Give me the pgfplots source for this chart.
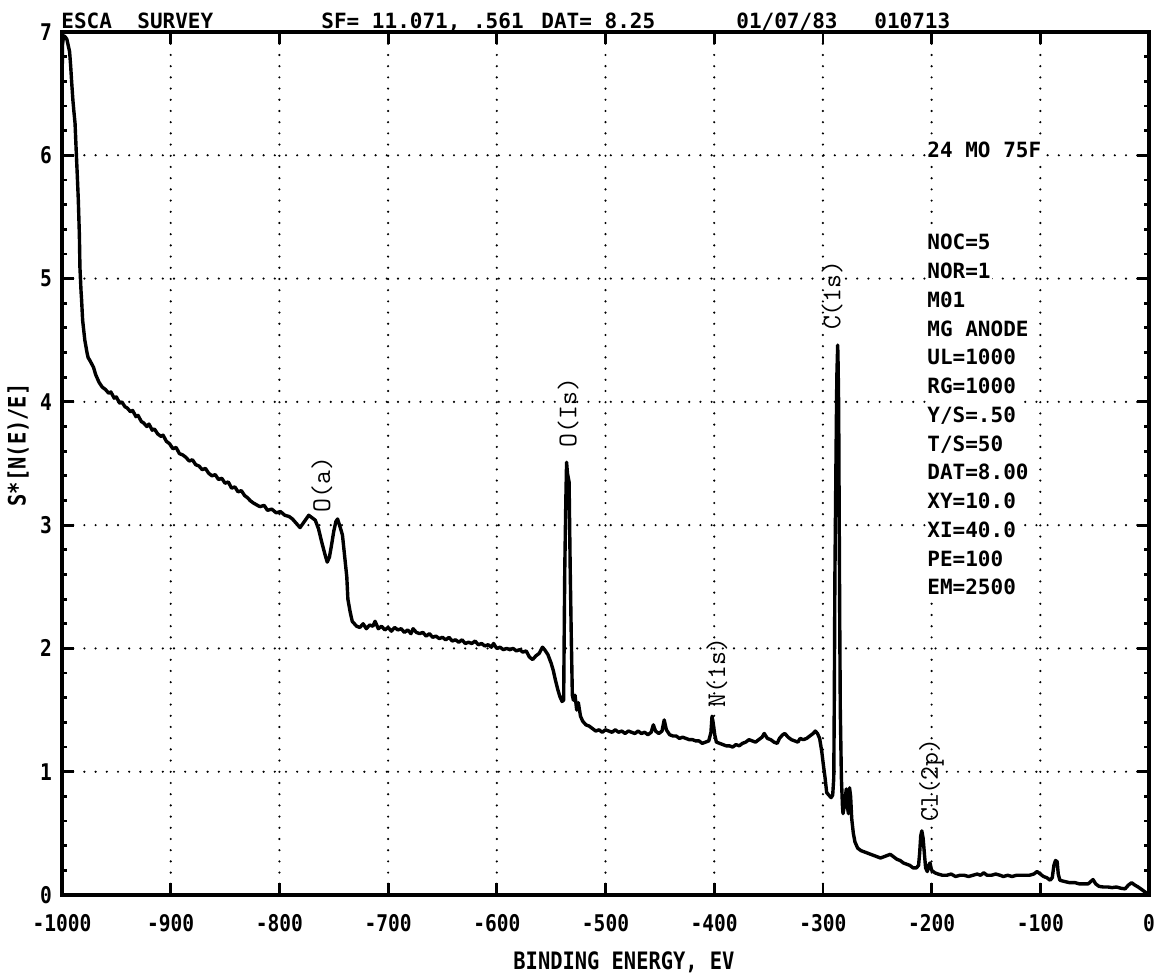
\documentclass[border=0pt]{standalone}
\usepackage{fontspec}
\usepackage{pgfplots}
\pgfplotsset{compat=1.18}
\newfontfamily\plotterfont{DejaVu Sans Mono}[BoldFont={DejaVu Sans Mono Bold}]
\newfontfamily\plotternarrow{DejaVu Sans Mono}[BoldFont={DejaVu Sans Mono Bold},FakeStretch=0.85]
\newcommand\hdrfont{\plotterfont\bfseries\fontsize{10.5}{12}\selectfont}
\newcommand\tickfont{\plotternarrow\bfseries\fontsize{11.5}{13}\selectfont}
\newcommand\titlefont{\plotternarrow\bfseries\fontsize{12}{14}\selectfont}
\newcommand\pkfont{\ttfamily\fontsize{13.5}{15}\selectfont}
\begin{document}
\begin{tikzpicture}
\begin{axis}[
  at={(0,0)}, anchor=south west,
  scale only axis, width=543.5pt, height=431.5pt,
  xmin=-1000, xmax=0, ymin=0, ymax=7,
  xtick={-1000,-900,-800,-700,-600,-500,-400,-300,-200,-100,0},
  xticklabels={-1000,-900,-800,-700,-600,-500,-400,-300,-200,-100,0},
  ytick={0,1,2,3,4,5,6,7},
  yticklabels={0,1,2,3,4,5,6,7},
  minor y tick num=4,
  tick align=inside,
  major tick length=6pt, minor tick length=2.5pt,
  every tick/.style={black, line width=1.4pt},
  xticklabel style={font=\tickfont, yshift=-6pt},
  yticklabel style={font=\tickfont, xshift=-1.5pt},
  axis line style={line width=1.6pt},
  grid=major,
  major grid style={black, line width=1.2pt, line cap=round, dash pattern=on 0pt off 5.6pt},
]
% survey spectrum, binding energy (eV) vs. counts
\addplot[black, line width=1.7pt, line join=round] coordinates {
(-1000,6.55) (-999.5,6.9) (-998.5,6.97) (-997,6.96) (-995.5,6.94) (-994,6.88) (-993,6.84)
(-992,6.72) (-991,6.58) (-990,6.45) (-989,6.35) (-988,6.26) (-987,6.05) (-986,5.85)
(-985,5.64) (-984,5.35) (-983.5,5.09) (-982.5,4.9) (-982,4.83) (-981,4.66) (-979,4.5)
(-977,4.40) (-976,4.36) (-974,4.33) (-971,4.28) (-969,4.22) (-968,4.20) (-966,4.16)
(-963,4.12) (-960,4.10) (-957,4.07) (-955,4.08) (-952,4.03) (-950,4.04) (-947,3.99)
(-945,4.00) (-942,3.96) (-940,3.95) (-937,3.92) (-935,3.93) (-932,3.88) (-930,3.89)
(-927,3.84) (-925,3.83) (-922,3.80) (-920,3.82) (-917,3.77) (-915,3.78) (-912,3.74)
(-909,3.72) (-907,3.73) (-904,3.68) (-901,3.66) (-898,3.62) (-895,3.63) (-892,3.58)
(-889,3.57) (-886,3.55) (-883,3.52) (-880,3.53) (-877,3.49) (-874,3.48) (-871,3.45)
(-868,3.46) (-865,3.42) (-862,3.40) (-859,3.41) (-856,3.37) (-853,3.38) (-850,3.34)
(-847,3.35) (-844,3.30) (-841,3.31) (-838,3.27) (-835,3.28) (-832,3.24) (-829,3.22)
(-827,3.20) (-824,3.18) (-822,3.17) (-818,3.15) (-814,3.16) (-811,3.12) (-807,3.13)
(-803,3.10) (-799,3.11) (-795,3.08) (-791,3.07) (-788,3.05) (-785,3.02) (-781,2.98)
(-777,3.03) (-773,3.08) (-770,3.06) (-767,3.04) (-764,2.97) (-761,2.86) (-758,2.76)
(-756,2.70) (-754,2.74) (-752,2.84) (-750,2.95) (-748,3.03) (-746.5,3.05) (-744,2.98)
(-742,2.92) (-740,2.75) (-738,2.58) (-737,2.40) (-735,2.30) (-733,2.22) (-731,2.20)
(-729,2.18) (-726,2.17) (-723,2.20) (-720,2.16) (-717,2.19) (-714,2.18) (-712,2.22)
(-709,2.16) (-706,2.18) (-703,2.15) (-700,2.17) (-697,2.14) (-694,2.17) (-691,2.15)
(-688,2.16) (-685,2.13) (-682,2.15) (-679,2.12) (-677,2.16) (-674,2.13) (-671,2.12)
(-668,2.13) (-665,2.10) (-662,2.12) (-659,2.09) (-656,2.10) (-653,2.08) (-650,2.09)
(-647,2.07) (-644,2.09) (-641,2.06) (-638,2.07) (-635,2.05) (-632,2.07) (-629,2.04)
(-626,2.05) (-623,2.04) (-620,2.06) (-617,2.03) (-614,2.04) (-611,2.02) (-608,2.03)
(-605,2.01) (-603,2.04) (-600,2.00) (-597,2.01) (-594,1.99) (-591,2.00) (-588,1.99)
(-585,2.00) (-582,1.98) (-579,1.99) (-576,1.97) (-573,1.98) (-570,1.93) (-567,1.91)
(-564,1.94) (-561,1.96) (-558,2.01) (-556,1.99) (-553,1.95) (-550,1.88) (-548,1.82)
(-546,1.74) (-544,1.67) (-542,1.61) (-540,1.57) (-538.5,1.58) (-537.5,2.63)
(-536.5,3.2) (-535.8,3.51) (-535,3.42) (-533.5,3.35) (-532.5,2.66) (-531.5,2.1)
(-530.5,1.62) (-529.5,1.58) (-528,1.62) (-526.5,1.50) (-525,1.56) (-523,1.45)
(-521,1.41) (-518,1.38) (-515,1.37) (-512,1.35) (-509,1.33) (-506,1.34) (-503,1.32)
(-500,1.34) (-497,1.33) (-494,1.32) (-491,1.34) (-488,1.32) (-485,1.33) (-482,1.31)
(-479,1.33) (-476,1.32) (-473,1.31) (-470,1.33) (-467,1.31) (-464,1.32) (-461,1.30)
(-458,1.32) (-456,1.38) (-454,1.33) (-451,1.31) (-448,1.33) (-446,1.42) (-444,1.34)
(-441,1.30) (-438,1.29) (-435,1.29) (-432,1.27) (-429,1.28) (-426,1.27) (-423,1.26)
(-420,1.26) (-417,1.25) (-414,1.25) (-411,1.23) (-408,1.24) (-405,1.25) (-403,1.32)
(-402,1.45) (-401,1.40) (-399.5,1.30) (-398,1.24) (-395,1.23) (-392,1.22) (-389,1.21)
(-386,1.21) (-383,1.20) (-380,1.22) (-377,1.21) (-374,1.23) (-371,1.24) (-368,1.26)
(-365,1.25) (-362,1.24) (-359,1.26) (-356,1.28) (-354,1.31) (-351,1.27) (-348,1.26)
(-345,1.24) (-342,1.23) (-340,1.27) (-337,1.30) (-335,1.31) (-332,1.28) (-329,1.26)
(-326,1.25) (-323,1.24) (-321,1.27) (-318,1.26) (-315,1.27) (-312,1.29) (-309,1.31)
(-307,1.33) (-305,1.31) (-303,1.27) (-301,1.16) (-299.5,1.05) (-298,0.95) (-296.5,0.83)
(-294.5,0.81) (-292.5,0.79) (-291,0.81) (-290,0.95) (-289.5,1.6) (-289,2.55)
(-288,3.5) (-287.2,4.2) (-286.4,4.46) (-286,4.3) (-285.5,3.96) (-285,3.04)
(-284.5,2.2) (-284,1.5) (-283,0.95) (-282,0.72) (-281.5,0.66) (-280,0.74)
(-278.5,0.86) (-277.5,0.72) (-276.5,0.66) (-275.5,0.87) (-274.5,0.80) (-273.5,0.62)
(-272,0.50) (-270.5,0.43) (-268,0.38) (-265,0.36) (-262,0.35) (-259,0.34) (-256,0.33)
(-253,0.32) (-250,0.31) (-247,0.30) (-244,0.31) (-241,0.32) (-238,0.33) (-235,0.31)
(-232,0.29) (-229,0.28) (-226,0.26) (-223,0.25) (-220,0.24) (-217,0.22) (-214,0.22)
(-212,0.24) (-211,0.34) (-210,0.48) (-209,0.52) (-207.8,0.46) (-206.5,0.32)
(-205.5,0.22) (-204,0.19) (-202.8,0.24) (-201.5,0.26) (-200,0.20) (-197,0.18)
(-194,0.17) (-190,0.16) (-186,0.16) (-182,0.17) (-178,0.15) (-174,0.16) (-170,0.16)
(-166,0.15) (-162,0.16) (-158,0.17) (-155,0.16) (-152,0.18) (-149,0.16) (-145,0.16)
(-141,0.17) (-137,0.16) (-134,0.15) (-130,0.16) (-126,0.15) (-122,0.16) (-118,0.16)
(-114,0.16) (-110,0.16) (-106,0.17) (-103,0.19) (-100,0.17) (-97,0.15) (-94,0.14)
(-91,0.12) (-89,0.14) (-87.5,0.24) (-86,0.28) (-84.5,0.27) (-83.5,0.17) (-82,0.12)
(-78,0.11) (-73,0.10) (-68,0.10) (-64,0.09) (-60,0.09) (-56,0.09) (-53.5,0.11)
(-51.5,0.125) (-49,0.09) (-46,0.07) (-42,0.065) (-38,0.065) (-34,0.06) (-30,0.065)
(-26,0.055) (-22,0.05) (-19,0.08) (-16,0.10) (-13,0.08) (-10,0.065) (-6,0.04)
(-3,0.02) (0,0.0)
};
% peak assignments
\node[rotate=90, anchor=west, inner sep=0pt, font=\pkfont] at (axis cs:-761,3.1) {O(a)};
\node[rotate=90, anchor=west, inner sep=0pt, font=\pkfont] at (axis cs:-534.5,3.63) {O(Is)};
\node[rotate=90, anchor=west, inner sep=0pt, font=\pkfont] at (axis cs:-397.5,1.52) {N(1s)};
\node[rotate=90, anchor=west, inner sep=0pt, font=\pkfont] at (axis cs:-291.6,4.58) {C(1s)};
\node[rotate=90, anchor=west, inner sep=0pt, font=\pkfont] at (axis cs:-200,0.59) {Cl(2p)};
\end{axis}
% run header
\node[anchor=base west, inner sep=0pt, font=\hdrfont] at (-0.5pt,433pt) {ESCA};
\node[anchor=base west, inner sep=0pt, font=\hdrfont] at (37.5pt,433pt) {SURVEY};
\node[anchor=base west, inner sep=0pt, font=\hdrfont] at (129.5pt,433pt) {SF= 11.071, .561};
\node[anchor=base west, inner sep=0pt, font=\hdrfont] at (239.5pt,433pt) {DAT= 8.25};
\node[anchor=base west, inner sep=0pt, font=\hdrfont] at (337pt,433pt) {01/07/83};
\node[anchor=base west, inner sep=0pt, font=\hdrfont] at (406pt,433pt) {010713};
% acquisition parameters
\begin{scope}[every node/.style={anchor=base west, fill=white, inner xsep=0.5pt, inner ysep=3.4pt, font=\hdrfont}]
\node at (432pt,368.5pt) {24 MO 75F\hspace{17pt}};
\foreach \t [count=\i from 0] in {NOC=5,NOR=1,M01,MG ANODE,UL=1000,RG=1000,Y/S=.50,T/S=50,DAT=8.00,XY=10.0,XI=40.0,PE=100,EM=2500}
  \node at (432pt,{322.5pt-14.375pt*\i}) {\t};
\end{scope}
% axis titles
\node[font=\titlefont] at (281pt,-33.5pt) {BINDING ENERGY, EV};
\node[rotate=90, font=\titlefont] at (-22pt,225pt) {S*[N(E)/E]};
\pgfresetboundingbox
\path (-31pt,-42pt) rectangle (547pt,447.5pt);
\end{tikzpicture}
\end{document}
